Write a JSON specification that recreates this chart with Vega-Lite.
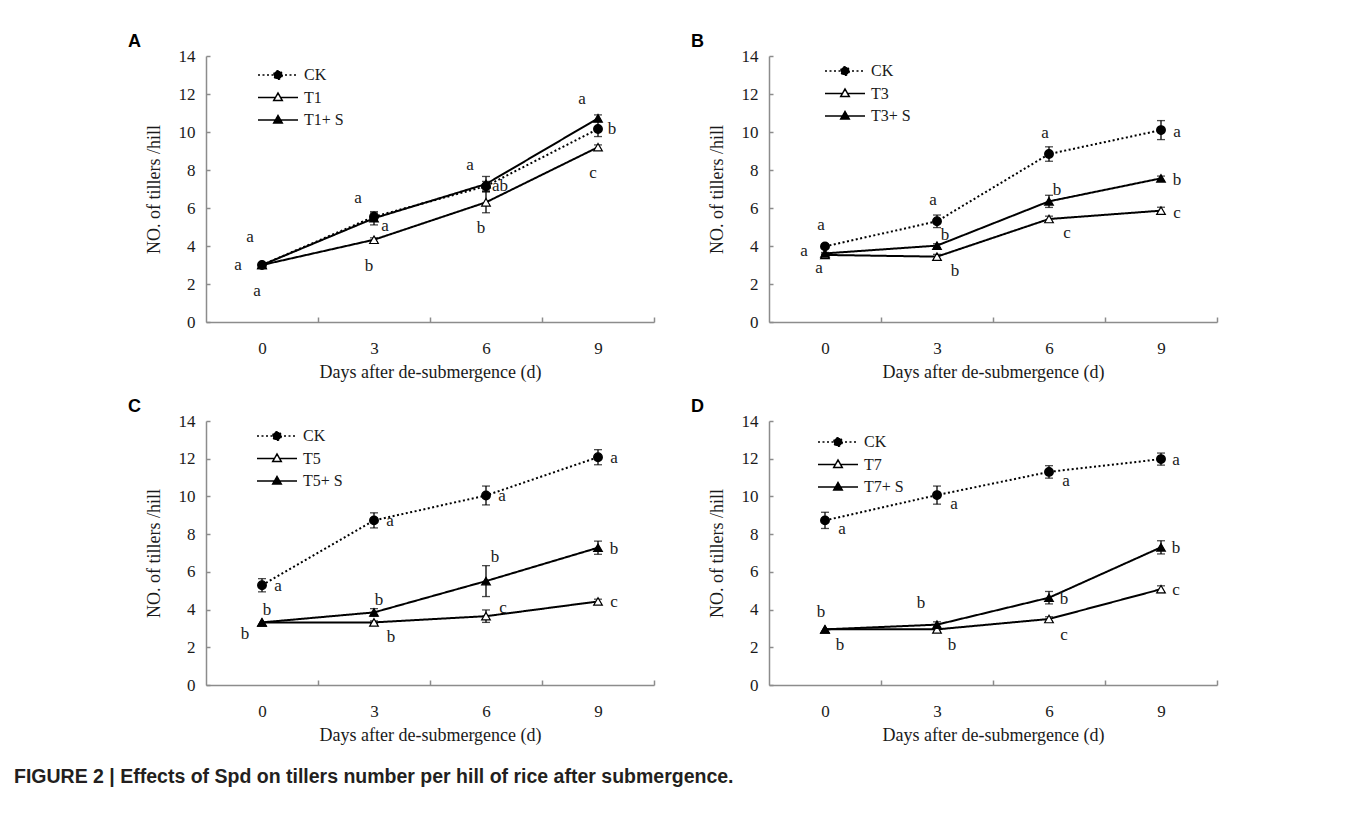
{
  "$schema": "https://vega.github.io/schema/vega-lite/v6.json",
  "background": "white",
  "padding": {"left": 14, "top": 33, "right": 10, "bottom": 10},
  "title": {
    "text": "FIGURE 2 | Effects of Spd on tillers number per hill of rice after submergence.",
    "orient": "bottom", "anchor": "start", "frame": "bounds", "dx": -114, "offset": 24,
    "font": "Liberation Sans", "fontSize": 19.5, "fontWeight": "bold", "color": "#231f20"
  },
  "datasets": {
    "tillers": [
      {"panel": "A", "series": "CK", "day": 0, "mean": 3.0, "err": 0, "letter": "a", "place": "nnw"},
      {"panel": "A", "series": "CK", "day": 3, "mean": 5.54, "err": 0.2, "letter": "a", "place": "nw"},
      {"panel": "A", "series": "CK", "day": 6, "mean": 7.15, "err": 0.25, "letter": "ab", "place": "e"},
      {"panel": "A", "series": "CK", "day": 9, "mean": 10.16, "err": 0.4, "letter": "b", "place": "e"},
      {"panel": "A", "series": "T1", "day": 0, "mean": 3.0, "err": 0, "letter": "a", "place": "s"},
      {"panel": "A", "series": "T1", "day": 3, "mean": 4.33, "err": 0.1, "letter": "b", "place": "s"},
      {"panel": "A", "series": "T1", "day": 6, "mean": 6.3, "err": 0.55, "letter": "b", "place": "s"},
      {"panel": "A", "series": "T1", "day": 9, "mean": 9.2, "err": 0.12, "letter": "c", "place": "s"},
      {"panel": "A", "series": "T1+ S", "day": 0, "mean": 3.0, "err": 0, "letter": "a", "place": "w"},
      {"panel": "A", "series": "T1+ S", "day": 3, "mean": 5.46, "err": 0.35, "letter": "a", "place": "se"},
      {"panel": "A", "series": "T1+ S", "day": 6, "mean": 7.26, "err": 0.4, "letter": "a", "place": "nw"},
      {"panel": "A", "series": "T1+ S", "day": 9, "mean": 10.72, "err": 0.18, "letter": "a", "place": "nw"},

      {"panel": "B", "series": "CK", "day": 0, "mean": 3.98, "err": 0.1, "letter": "a", "place": "n"},
      {"panel": "B", "series": "CK", "day": 3, "mean": 5.3, "err": 0.33, "letter": "a", "place": "n"},
      {"panel": "B", "series": "CK", "day": 6, "mean": 8.84, "err": 0.38, "letter": "a", "place": "n"},
      {"panel": "B", "series": "CK", "day": 9, "mean": 10.1, "err": 0.5, "letter": "a", "place": "e"},
      {"panel": "B", "series": "T3", "day": 0, "mean": 3.53, "err": 0.05, "letter": "a", "place": "ssw"},
      {"panel": "B", "series": "T3", "day": 3, "mean": 3.44, "err": 0.12, "letter": "b", "place": "se"},
      {"panel": "B", "series": "T3", "day": 6, "mean": 5.42, "err": 0.15, "letter": "c", "place": "se"},
      {"panel": "B", "series": "T3", "day": 9, "mean": 5.86, "err": 0.18, "letter": "c", "place": "e"},
      {"panel": "B", "series": "T3+ S", "day": 0, "mean": 3.61, "err": 0.05, "letter": "a", "place": "w"},
      {"panel": "B", "series": "T3+ S", "day": 3, "mean": 4.02, "err": 0.1, "letter": "b", "place": "ne"},
      {"panel": "B", "series": "T3+ S", "day": 6, "mean": 6.35, "err": 0.32, "letter": "b", "place": "ne"},
      {"panel": "B", "series": "T3+ S", "day": 9, "mean": 7.56, "err": 0.12, "letter": "b", "place": "e"},

      {"panel": "C", "series": "CK", "day": 0, "mean": 5.29, "err": 0.35, "letter": "a", "place": "e"},
      {"panel": "C", "series": "CK", "day": 3, "mean": 8.73, "err": 0.4, "letter": "a", "place": "e"},
      {"panel": "C", "series": "CK", "day": 6, "mean": 10.05, "err": 0.5, "letter": "a", "place": "e"},
      {"panel": "C", "series": "CK", "day": 9, "mean": 12.08, "err": 0.4, "letter": "a", "place": "e"},
      {"panel": "C", "series": "T5", "day": 0, "mean": 3.32, "err": 0, "letter": "b", "place": "sw"},
      {"panel": "C", "series": "T5", "day": 3, "mean": 3.32, "err": 0.08, "letter": "b", "place": "se"},
      {"panel": "C", "series": "T5", "day": 6, "mean": 3.65, "err": 0.33, "letter": "c", "place": "ene"},
      {"panel": "C", "series": "T5", "day": 9, "mean": 4.43, "err": 0.12, "letter": "c", "place": "e"},
      {"panel": "C", "series": "T5+ S", "day": 0, "mean": 3.32, "err": 0, "letter": "b", "place": "ne"},
      {"panel": "C", "series": "T5+ S", "day": 3, "mean": 3.85, "err": 0.2, "letter": "b", "place": "ne"},
      {"panel": "C", "series": "T5+ S", "day": 6, "mean": 5.51, "err": 0.82, "letter": "b", "place": "nne"},
      {"panel": "C", "series": "T5+ S", "day": 9, "mean": 7.28, "err": 0.35, "letter": "b", "place": "e"},

      {"panel": "D", "series": "CK", "day": 0, "mean": 8.73, "err": 0.43, "letter": "a", "place": "se"},
      {"panel": "D", "series": "CK", "day": 3, "mean": 10.07, "err": 0.48, "letter": "a", "place": "se"},
      {"panel": "D", "series": "CK", "day": 6, "mean": 11.3, "err": 0.33, "letter": "a", "place": "se"},
      {"panel": "D", "series": "CK", "day": 9, "mean": 11.98, "err": 0.32, "letter": "a", "place": "e"},
      {"panel": "D", "series": "T7", "day": 0, "mean": 2.95, "err": 0, "letter": "b", "place": "sse"},
      {"panel": "D", "series": "T7", "day": 3, "mean": 2.95, "err": 0.1, "letter": "b", "place": "sse"},
      {"panel": "D", "series": "T7", "day": 6, "mean": 3.5, "err": 0.12, "letter": "c", "place": "sse"},
      {"panel": "D", "series": "T7", "day": 9, "mean": 5.08, "err": 0.18, "letter": "c", "place": "e"},
      {"panel": "D", "series": "T7+ S", "day": 0, "mean": 2.95, "err": 0, "letter": "b", "place": "n"},
      {"panel": "D", "series": "T7+ S", "day": 3, "mean": 3.2, "err": 0.15, "letter": "b", "place": "nw"},
      {"panel": "D", "series": "T7+ S", "day": 6, "mean": 4.63, "err": 0.33, "letter": "b", "place": "e"},
      {"panel": "D", "series": "T7+ S", "day": 9, "mean": 7.3, "err": 0.35, "letter": "b", "place": "e"}
    ]
  },
  "columns": 2,
  "spacing": {"row": 99, "column": 115},
  "bounds": "flush",
  "resolve": {
    "scale": {"shape": "independent", "fill": "independent", "strokeDash": "independent"},
    "legend": {"shape": "independent", "fill": "independent", "strokeDash": "independent"}
  },
  "concat": [
    {
      "width": 448, "height": 266,
      "title": {"text": "A", "anchor": "start", "frame": "group", "dx": -78, "offset": -4},
      "data": {"name": "tillers"},
      "transform": [{"filter": "datum.panel === 'A'"}],
      "encoding": {
        "x": {"field": "day", "type": "quantitative", "scale": {"domain": [-1.5, 10.5], "nice": false, "zero": false},
              "axis": {"title": "Days after de-submergence (d)", "values": [0, 1.5, 3, 4.5, 6, 7.5, 9, 10.5], "format": "d",
                       "labelExpr": "datum.value % 3 === 0 ? datum.label : ''",
                       "tickOpacity": {"condition": {"test": "datum.value % 3 === 0", "value": 0}, "value": 1}}},
        "y": {"field": "mean", "type": "quantitative", "scale": {"domain": [0, 14], "nice": false},
              "axis": {"title": "NO. of tillers /hill", "values": [0, 2, 4, 6, 8, 10, 12, 14], "format": "d"}}
      },
      "layer": [
        {"mark": {"type": "line", "color": "black", "strokeWidth": 2},
         "encoding": {"detail": {"field": "series"},
                      "strokeDash": {"condition": {"test": "datum.series === 'CK'", "value": [2, 2.5]}, "value": [1, 0]}}},
        {"transform": [{"filter": "datum.err > 0"}],
         "mark": {"type": "errorbar", "color": "black", "ticks": {"size": 8, "thickness": 1.3}, "rule": {"strokeWidth": 1.3}},
         "encoding": {"yError": {"field": "err"}}},
        {"mark": {"type": "point", "filled": true, "size": 75, "stroke": "black", "strokeWidth": 1.2, "opacity": 1},
         "encoding": {
           "fill": {"condition": {"test": "datum.series !== 'CK' && indexof(datum.series, '+') < 0", "value": "white"}, "value": "black"},
           "shape": {"condition": {"test": "datum.series === 'CK'", "value": "circle"}, "value": "triangle-up"}
         }},
        {"transform": [{"filter": "datum.day < 0"}],
         "mark": {"type": "point", "filled": true, "stroke": "black", "strokeWidth": 1.5, "opacity": 1},
         "encoding": {
           "fill": {"field": "series", "type": "nominal", "scale": {"domain": ["CK", "T1", "T1+ S"], "range": ["black", "white", "black"]}},
           "strokeDash": {"field": "series", "type": "nominal", "scale": {"domain": ["CK", "T1", "T1+ S"], "range": [[2, 2.5], [1, 0], [1, 0]]}},
           "shape": {"field": "series", "type": "nominal",
             "scale": {"domain": ["CK", "T1", "T1+ S"], "range": [
               "M-4,0H4M0.85,0A0.85,0.85,0,1,1,-0.85,0A0.85,0.85,0,1,1,0.85,0Z",
               "M-4,0H-0.5M0.5,0H4M0,-0.9L0.85,0.6L-0.85,0.6Z",
               "M-4,0H-0.5M0.5,0H4M0,-0.9L0.85,0.6L-0.85,0.6Z"]},
             "legend": {"orient": "none", "legendX": 64, "legendY": 11, "title": null}}
         }},
        {"transform": [{"filter": "datum.place === 'nnw'"}], "mark": {"type": "text", "dx": -12, "dy": -28}, "encoding": {"text": {"field": "letter"}}},
        {"transform": [{"filter": "datum.place === 'nw'"}], "mark": {"type": "text", "dx": -16, "dy": -19}, "encoding": {"text": {"field": "letter"}}},
        {"transform": [{"filter": "datum.place === 'e'"}], "mark": {"type": "text", "dx": 14, "dy": 0}, "encoding": {"text": {"field": "letter"}}},
        {"transform": [{"filter": "datum.place === 's'"}], "mark": {"type": "text", "dx": -5, "dy": 26}, "encoding": {"text": {"field": "letter"}}},
        {"transform": [{"filter": "datum.place === 'w'"}], "mark": {"type": "text", "dx": -24, "dy": 0}, "encoding": {"text": {"field": "letter"}}},
        {"transform": [{"filter": "datum.place === 'se'"}], "mark": {"type": "text", "dx": 11, "dy": 8}, "encoding": {"text": {"field": "letter"}}}
      ]
    },
    {
      "width": 448, "height": 266,
      "title": {"text": "B", "anchor": "start", "frame": "group", "dx": -78, "offset": -4},
      "data": {"name": "tillers"},
      "transform": [{"filter": "datum.panel === 'B'"}],
      "encoding": {
        "x": {"field": "day", "type": "quantitative", "scale": {"domain": [-1.5, 10.5], "nice": false, "zero": false},
              "axis": {"title": "Days after de-submergence (d)", "values": [0, 1.5, 3, 4.5, 6, 7.5, 9, 10.5], "format": "d",
                       "labelExpr": "datum.value % 3 === 0 ? datum.label : ''",
                       "tickOpacity": {"condition": {"test": "datum.value % 3 === 0", "value": 0}, "value": 1}}},
        "y": {"field": "mean", "type": "quantitative", "scale": {"domain": [0, 14], "nice": false},
              "axis": {"title": "NO. of tillers /hill", "values": [0, 2, 4, 6, 8, 10, 12, 14], "format": "d"}}
      },
      "layer": [
        {"mark": {"type": "line", "color": "black", "strokeWidth": 2},
         "encoding": {"detail": {"field": "series"},
                      "strokeDash": {"condition": {"test": "datum.series === 'CK'", "value": [2, 2.5]}, "value": [1, 0]}}},
        {"transform": [{"filter": "datum.err > 0"}],
         "mark": {"type": "errorbar", "color": "black", "ticks": {"size": 8, "thickness": 1.3}, "rule": {"strokeWidth": 1.3}},
         "encoding": {"yError": {"field": "err"}}},
        {"mark": {"type": "point", "filled": true, "size": 75, "stroke": "black", "strokeWidth": 1.2, "opacity": 1},
         "encoding": {
           "fill": {"condition": {"test": "datum.series !== 'CK' && indexof(datum.series, '+') < 0", "value": "white"}, "value": "black"},
           "shape": {"condition": {"test": "datum.series === 'CK'", "value": "circle"}, "value": "triangle-up"}
         }},
        {"transform": [{"filter": "datum.day < 0"}],
         "mark": {"type": "point", "filled": true, "stroke": "black", "strokeWidth": 1.5, "opacity": 1},
         "encoding": {
           "fill": {"field": "series", "type": "nominal", "scale": {"domain": ["CK", "T3", "T3+ S"], "range": ["black", "white", "black"]}},
           "strokeDash": {"field": "series", "type": "nominal", "scale": {"domain": ["CK", "T3", "T3+ S"], "range": [[2, 2.5], [1, 0], [1, 0]]}},
           "shape": {"field": "series", "type": "nominal",
             "scale": {"domain": ["CK", "T3", "T3+ S"], "range": [
               "M-4,0H4M0.85,0A0.85,0.85,0,1,1,-0.85,0A0.85,0.85,0,1,1,0.85,0Z",
               "M-4,0H-0.5M0.5,0H4M0,-0.9L0.85,0.6L-0.85,0.6Z",
               "M-4,0H-0.5M0.5,0H4M0,-0.9L0.85,0.6L-0.85,0.6Z"]},
             "legend": {"orient": "none", "legendX": 68, "legendY": 7, "title": null}}
         }},
        {"transform": [{"filter": "datum.place === 'n'"}], "mark": {"type": "text", "dx": -4, "dy": -21}, "encoding": {"text": {"field": "letter"}}},
        {"transform": [{"filter": "datum.place === 'e'"}], "mark": {"type": "text", "dx": 16, "dy": 2}, "encoding": {"text": {"field": "letter"}}},
        {"transform": [{"filter": "datum.place === 'ssw'"}], "mark": {"type": "text", "dx": -6, "dy": 13}, "encoding": {"text": {"field": "letter"}}},
        {"transform": [{"filter": "datum.place === 'se'"}], "mark": {"type": "text", "dx": 18, "dy": 14}, "encoding": {"text": {"field": "letter"}}},
        {"transform": [{"filter": "datum.place === 'w'"}], "mark": {"type": "text", "dx": -21, "dy": -2}, "encoding": {"text": {"field": "letter"}}},
        {"transform": [{"filter": "datum.place === 'ne'"}], "mark": {"type": "text", "dx": 8, "dy": -11}, "encoding": {"text": {"field": "letter"}}}
      ]
    },
    {
      "width": 448, "height": 264,
      "title": {"text": "C", "anchor": "start", "frame": "group", "dx": -78, "offset": -4},
      "data": {"name": "tillers"},
      "transform": [{"filter": "datum.panel === 'C'"}],
      "encoding": {
        "x": {"field": "day", "type": "quantitative", "scale": {"domain": [-1.5, 10.5], "nice": false, "zero": false},
              "axis": {"title": "Days after de-submergence (d)", "values": [0, 1.5, 3, 4.5, 6, 7.5, 9, 10.5], "format": "d",
                       "labelExpr": "datum.value % 3 === 0 ? datum.label : ''",
                       "tickOpacity": {"condition": {"test": "datum.value % 3 === 0", "value": 0}, "value": 1}}},
        "y": {"field": "mean", "type": "quantitative", "scale": {"domain": [0, 14], "nice": false},
              "axis": {"title": "NO. of tillers /hill", "values": [0, 2, 4, 6, 8, 10, 12, 14], "format": "d"}}
      },
      "layer": [
        {"mark": {"type": "line", "color": "black", "strokeWidth": 2},
         "encoding": {"detail": {"field": "series"},
                      "strokeDash": {"condition": {"test": "datum.series === 'CK'", "value": [2, 2.5]}, "value": [1, 0]}}},
        {"transform": [{"filter": "datum.err > 0"}],
         "mark": {"type": "errorbar", "color": "black", "ticks": {"size": 8, "thickness": 1.3}, "rule": {"strokeWidth": 1.3}},
         "encoding": {"yError": {"field": "err"}}},
        {"mark": {"type": "point", "filled": true, "size": 75, "stroke": "black", "strokeWidth": 1.2, "opacity": 1},
         "encoding": {
           "fill": {"condition": {"test": "datum.series !== 'CK' && indexof(datum.series, '+') < 0", "value": "white"}, "value": "black"},
           "shape": {"condition": {"test": "datum.series === 'CK'", "value": "circle"}, "value": "triangle-up"}
         }},
        {"transform": [{"filter": "datum.day < 0"}],
         "mark": {"type": "point", "filled": true, "stroke": "black", "strokeWidth": 1.5, "opacity": 1},
         "encoding": {
           "fill": {"field": "series", "type": "nominal", "scale": {"domain": ["CK", "T5", "T5+ S"], "range": ["black", "white", "black"]}},
           "strokeDash": {"field": "series", "type": "nominal", "scale": {"domain": ["CK", "T5", "T5+ S"], "range": [[2, 2.5], [1, 0], [1, 0]]}},
           "shape": {"field": "series", "type": "nominal",
             "scale": {"domain": ["CK", "T5", "T5+ S"], "range": [
               "M-4,0H4M0.85,0A0.85,0.85,0,1,1,-0.85,0A0.85,0.85,0,1,1,0.85,0Z",
               "M-4,0H-0.5M0.5,0H4M0,-0.9L0.85,0.6L-0.85,0.6Z",
               "M-4,0H-0.5M0.5,0H4M0,-0.9L0.85,0.6L-0.85,0.6Z"]},
             "legend": {"orient": "none", "legendX": 63, "legendY": 7, "title": null}}
         }},
        {"transform": [{"filter": "datum.place === 'e'"}], "mark": {"type": "text", "dx": 16, "dy": 1}, "encoding": {"text": {"field": "letter"}}},
        {"transform": [{"filter": "datum.place === 'sw'"}], "mark": {"type": "text", "dx": -17, "dy": 12}, "encoding": {"text": {"field": "letter"}}},
        {"transform": [{"filter": "datum.place === 'se'"}], "mark": {"type": "text", "dx": 17, "dy": 15}, "encoding": {"text": {"field": "letter"}}},
        {"transform": [{"filter": "datum.place === 'ene'"}], "mark": {"type": "text", "dx": 17, "dy": -8}, "encoding": {"text": {"field": "letter"}}},
        {"transform": [{"filter": "datum.place === 'ne'"}], "mark": {"type": "text", "dx": 5, "dy": -12}, "encoding": {"text": {"field": "letter"}}},
        {"transform": [{"filter": "datum.place === 'nne'"}], "mark": {"type": "text", "dx": 9, "dy": -24}, "encoding": {"text": {"field": "letter"}}}
      ]
    },
    {
      "width": 448, "height": 264,
      "title": {"text": "D", "anchor": "start", "frame": "group", "dx": -78, "offset": -4},
      "data": {"name": "tillers"},
      "transform": [{"filter": "datum.panel === 'D'"}],
      "encoding": {
        "x": {"field": "day", "type": "quantitative", "scale": {"domain": [-1.5, 10.5], "nice": false, "zero": false},
              "axis": {"title": "Days after de-submergence (d)", "values": [0, 1.5, 3, 4.5, 6, 7.5, 9, 10.5], "format": "d",
                       "labelExpr": "datum.value % 3 === 0 ? datum.label : ''",
                       "tickOpacity": {"condition": {"test": "datum.value % 3 === 0", "value": 0}, "value": 1}}},
        "y": {"field": "mean", "type": "quantitative", "scale": {"domain": [0, 14], "nice": false},
              "axis": {"title": "NO. of tillers /hill", "values": [0, 2, 4, 6, 8, 10, 12, 14], "format": "d"}}
      },
      "layer": [
        {"mark": {"type": "line", "color": "black", "strokeWidth": 2},
         "encoding": {"detail": {"field": "series"},
                      "strokeDash": {"condition": {"test": "datum.series === 'CK'", "value": [2, 2.5]}, "value": [1, 0]}}},
        {"transform": [{"filter": "datum.err > 0"}],
         "mark": {"type": "errorbar", "color": "black", "ticks": {"size": 8, "thickness": 1.3}, "rule": {"strokeWidth": 1.3}},
         "encoding": {"yError": {"field": "err"}}},
        {"mark": {"type": "point", "filled": true, "size": 75, "stroke": "black", "strokeWidth": 1.2, "opacity": 1},
         "encoding": {
           "fill": {"condition": {"test": "datum.series !== 'CK' && indexof(datum.series, '+') < 0", "value": "white"}, "value": "black"},
           "shape": {"condition": {"test": "datum.series === 'CK'", "value": "circle"}, "value": "triangle-up"}
         }},
        {"transform": [{"filter": "datum.day < 0"}],
         "mark": {"type": "point", "filled": true, "stroke": "black", "strokeWidth": 1.5, "opacity": 1},
         "encoding": {
           "fill": {"field": "series", "type": "nominal", "scale": {"domain": ["CK", "T7", "T7+ S"], "range": ["black", "white", "black"]}},
           "strokeDash": {"field": "series", "type": "nominal", "scale": {"domain": ["CK", "T7", "T7+ S"], "range": [[2, 2.5], [1, 0], [1, 0]]}},
           "shape": {"field": "series", "type": "nominal",
             "scale": {"domain": ["CK", "T7", "T7+ S"], "range": [
               "M-4,0H4M0.85,0A0.85,0.85,0,1,1,-0.85,0A0.85,0.85,0,1,1,0.85,0Z",
               "M-4,0H-0.5M0.5,0H4M0,-0.9L0.85,0.6L-0.85,0.6Z",
               "M-4,0H-0.5M0.5,0H4M0,-0.9L0.85,0.6L-0.85,0.6Z"]},
             "legend": {"orient": "none", "legendX": 61, "legendY": 13, "title": null}}
         }},
        {"transform": [{"filter": "datum.place === 'se'"}], "mark": {"type": "text", "dx": 17, "dy": 9}, "encoding": {"text": {"field": "letter"}}},
        {"transform": [{"filter": "datum.place === 'sse'"}], "mark": {"type": "text", "dx": 15, "dy": 16}, "encoding": {"text": {"field": "letter"}}},
        {"transform": [{"filter": "datum.place === 'e'"}], "mark": {"type": "text", "dx": 15, "dy": 1}, "encoding": {"text": {"field": "letter"}}},
        {"transform": [{"filter": "datum.place === 'n'"}], "mark": {"type": "text", "dx": -4, "dy": -17}, "encoding": {"text": {"field": "letter"}}},
        {"transform": [{"filter": "datum.place === 'nw'"}], "mark": {"type": "text", "dx": -16, "dy": -22}, "encoding": {"text": {"field": "letter"}}}
      ]
    }
  ],
  "config": {
    "view": {"stroke": null},
    "font": "Liberation Serif",
    "text": {"font": "Liberation Serif", "fontSize": 17, "color": "#1a1a1a"},
    "axis": {
      "grid": false,
      "domainColor": "#8c8c8c", "domainWidth": 1.5,
      "tickColor": "#8c8c8c", "tickWidth": 1.5,
      "labelFont": "Liberation Serif", "labelFontSize": 17, "labelColor": "#1a1a1a",
      "labelFlush": false, "labelOverlap": false,
      "titleFont": "Liberation Serif", "titleFontSize": 18, "titleFontWeight": "normal", "titleColor": "#1a1a1a"
    },
    "axisX": {"tickSize": -5, "labelPadding": 23, "titlePadding": 7},
    "axisY": {"tickSize": -4, "labelPadding": 15, "titlePadding": 15},
    "legend": {
      "padding": 0, "labelFont": "Liberation Serif", "labelFontSize": 16, "labelColor": "#1a1a1a",
      "labelOffset": 18, "rowPadding": 6.5, "symbolSize": 100, "symbolStrokeWidth": 1.5, "symbolOpacity": 1
    },
    "title": {"font": "Liberation Sans", "fontSize": 18, "fontWeight": "bold", "color": "#000000"}
  }
}
